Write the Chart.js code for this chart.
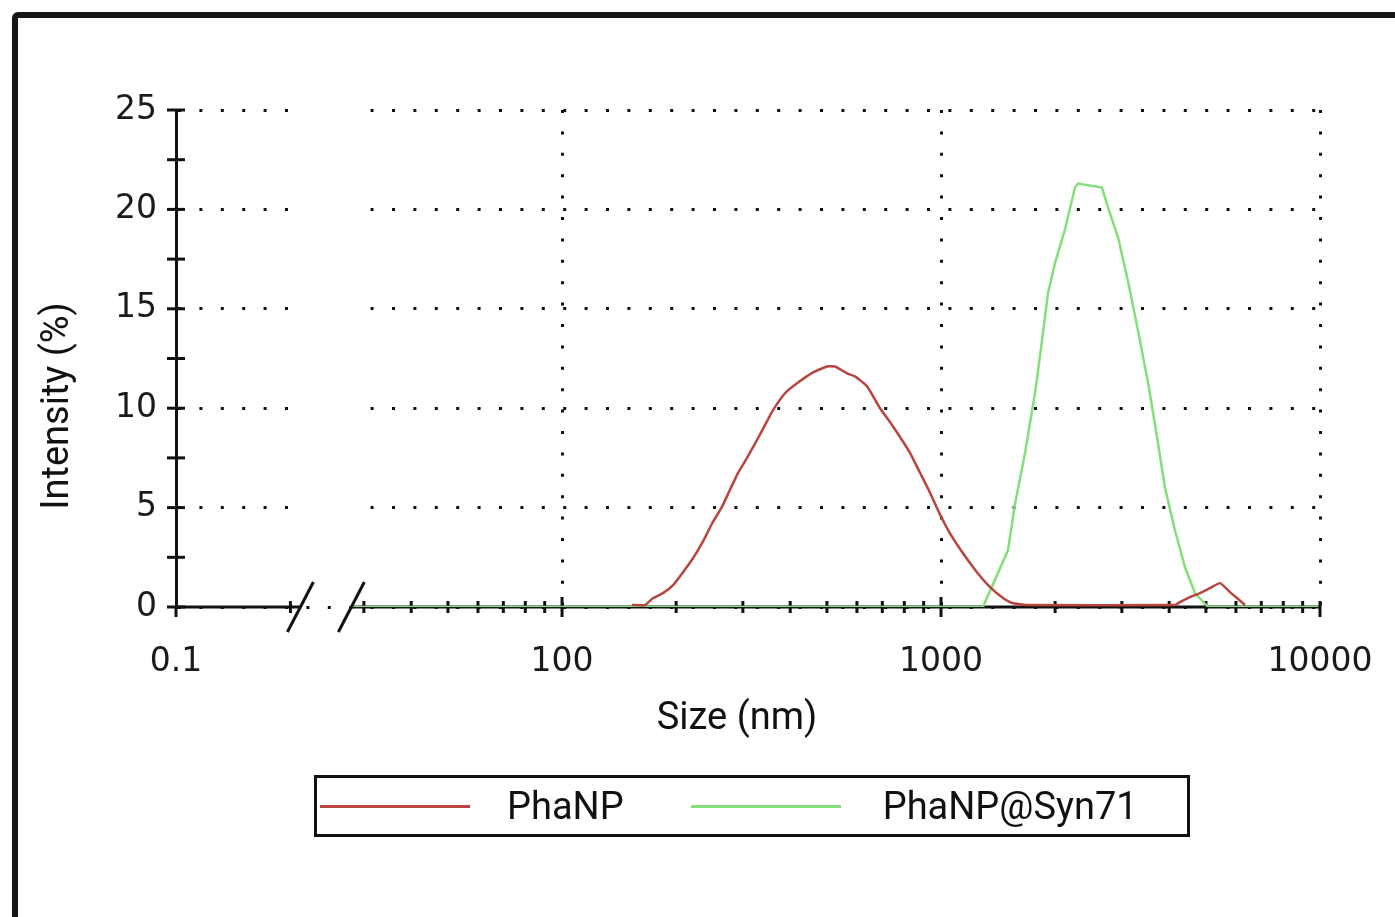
<!DOCTYPE html>
<html>
<head>
<meta charset="utf-8">
<title>DLS size distribution</title>
<script src="https://cdn.jsdelivr.net/npm/chart.js@4.4.0/dist/chart.umd.min.js"></script>
<style>
  html, body { margin: 0; padding: 0; background: #fff; overflow: hidden; }
  body { width: 1395px; height: 917px; position: relative; }
  #frame {
    position: absolute; left: 12px; top: 12px; width: 1420px; height: 940px;
    border: 6px solid #161616; border-radius: 6px; box-sizing: border-box;
  }
  #wrap { position: absolute; left: 0; top: 0; width: 1395px; height: 917px; }
  #legend {
    position: absolute; left: 314px; top: 775px; width: 876px; height: 62px;
    box-sizing: border-box; border: 3px solid #111;
    display: flex; align-items: center; padding-left: 3px;
    font-family: Roboto, "Noto Sans", sans-serif; font-size: 38px; color: #111;
  }
  .item { display: flex; align-items: center; }
  .swatch { width: 150px; height: 3px; margin-right: 37px; }
  .item + .item { margin-left: 67px; }
  .item + .item .swatch { margin-right: 42px; }
</style>
</head>
<body>
<div id="frame"></div>
<div id="wrap"><canvas id="dls-chart" width="1395" height="917"></canvas></div>
<div id="legend"></div>

<script>
// the size axis is broken: the stub at the left stands for 0.1 nm,
// after the two slashes the log axis carries on from ~28 nm
const sizeAxisMin = 9.58
const sizeAxisMax = 10000
const breakFrom = 20.4
const breakTo = 27.8

const xLabelTicks = [sizeAxisMin, 100, 1000, 10000]
const xMajorTicks = [100, 1000]
const xMinorTicks = [19.2, 30, 40, 50, 60, 70, 80, 90,
  200, 300, 400, 500, 600, 700, 800, 900,
  2000, 3000, 4000, 5000, 6000, 7000, 8000, 9000]
const yMax = 25
const yLabelStep = 5
const yTickStep = 2.5

// PhaNP (nm / %)
const phanpSize = [153, 165.6, 173.9, 184.7, 196.3, 208.6, 221.6, 235.5, 248.8, 264.4,
  277.5, 291.4, 307.7, 327, 343.2, 360.3, 387.6, 416.9, 459.6, 500.4,
  525.3, 565, 593, 637.9, 690.2, 733.6, 779.5, 828.2, 880.2, 935.4,
  994, 1056, 1143, 1244, 1347, 1458, 1540, 1687,
  4144, 4272, 4539, 4824, 5126, 5446, 5788, 6039, 6341]
const phanpIntensity = [0.1, 0.1, 0.45, 0.7, 1.1, 1.75, 2.45, 3.3, 4.2, 5.05,
  5.9, 6.75, 7.5, 8.4, 9.15, 9.9, 10.75, 11.25, 11.8, 12.1,
  12.1, 11.75, 11.6, 11.1, 10.0, 9.3, 8.55, 7.75, 6.75, 5.75,
  4.65, 3.7, 2.7, 1.75, 1.0, 0.45, 0.2, 0.1,
  0.1, 0.25, 0.5, 0.7, 0.95, 1.2, 0.75, 0.45, 0.1]

// PhaNP@Syn71 (nm / %)
const synSize = [28, 1290, 1502, 1568, 1666, 1770, 1847, 1916, 1999, 2124,
  2257, 2299, 2659, 2758, 2931, 3114, 3310, 3517, 3715, 3899,
  4144, 4404, 4680, 5064, 10000]
const synIntensity = [0, 0, 2.85, 5.2, 7.75, 10.75, 13.4, 15.8, 17.3, 19.0,
  21.1, 21.3, 21.1, 20.1, 18.6, 16.4, 13.9, 11.3, 8.55, 6.0,
  3.85, 2.0, 0.7, 0, 0]

const axisColor = "#111"
const tickFont = { family: "DejaVu Sans", size: 33 }

const toPoints = (xs, ys) => xs.map((x, i) => ({ x, y: ys[i] }))

const line = (ctx, x1, y1, x2, y2) => {
  ctx.beginPath()
  ctx.moveTo(x1, y1)
  ctx.lineTo(x2, y2)
  ctx.stroke()
}

const brokenAxis = {
  id: "brokenAxis",
  beforeDatasetsDraw(chart) {
    const { ctx, chartArea: area, scales: { x, y } } = chart
    const y0 = y.getPixelForValue(0)
    const gapL = x.getPixelForValue(breakFrom)
    const gapR = x.getPixelForValue(breakTo)
    ctx.save()
    // no grid inside the break
    ctx.fillStyle = "#fff"
    ctx.fillRect(gapL + 3, area.top - 3, gapR - gapL + 9, area.bottom - area.top + 2)

    ctx.strokeStyle = axisColor
    ctx.lineWidth = 3
    line(ctx, area.left, y0, gapL, y0)
    line(ctx, gapR, y0, area.right, y0)
    line(ctx, area.left, y0, area.left, y0 + 10)

    xMinorTicks.forEach(v => {
      const px = x.getPixelForValue(v)
      line(ctx, px, y0 - 6, px, y0 + 6)
    })
    xMajorTicks.forEach(v => {
      const px = x.getPixelForValue(v)
      line(ctx, px, y0 - 10, px, y0 + 10)
    })
    for (let v = 0; v <= yMax; v += yTickStep) {
      const py = y.getPixelForValue(v)
      line(ctx, area.left - 9, py, area.left + 9, py)
    }
    ctx.restore()
  },
  afterDatasetsDraw(chart) {
    const { ctx, scales: { x, y } } = chart
    const y0 = y.getPixelForValue(0)
    ctx.save()
    ctx.strokeStyle = axisColor
    ctx.lineWidth = 3
    const pEnd = x.getPixelForValue(sizeAxisMax)
    line(ctx, pEnd, y0 - 6, pEnd, y0 + 10)
    ;[breakFrom, breakTo].forEach(v => {
      const px = x.getPixelForValue(v)
      line(ctx, px - 13, y0 + 25, px + 13, y0 - 25)
    })

    // axis titles
    ctx.fillStyle = axisColor
    ctx.font = "38px Roboto"
    ctx.textAlign = "center"
    ctx.textBaseline = "middle"
    ctx.fillText("Size (nm)", 737, 719)
    ctx.translate(58, 406)
    ctx.rotate(-Math.PI / 2)
    ctx.fillText("Intensity (%)", 0, 0)
    ctx.restore()
  }
}

const chart = new Chart(document.getElementById("dls-chart"), {
  type: "line",
  data: {
    datasets: [
      {
        label: "PhaNP",
        data: toPoints(phanpSize, phanpIntensity),
        borderColor: "#b8453f",
        borderWidth: 2.5,
        pointRadius: 0,
        tension: 0.15,
      },
      {
        label: "PhaNP@Syn71",
        data: toPoints(synSize, synIntensity),
        borderColor: "#84de7a",
        borderWidth: 2.5,
        pointRadius: 0,
        tension: 0,
      }
    ]
  },
  options: {
    responsive: false,
    animation: false,
    events: [],
    layout: { padding: { top: 110, right: 75, left: 0, bottom: 0 } },
    plugins: {
      legend: { display: false },
      tooltip: { enabled: false }
    },
    scales: {
      x: {
        type: "logarithmic",
        min: sizeAxisMin,
        max: sizeAxisMax,
        afterBuildTicks: scale => {
          scale.ticks = xLabelTicks.map(v => ({ value: v }))
        },
        afterFit: scale => {
          scale.height = 310
          scale.paddingLeft = 0
          scale.paddingRight = 0
        },
        ticks: {
          autoSkip: false,
          maxRotation: 0,
          padding: 36,
          color: "#1a1a1a",
          font: tickFont,
          callback: v => v === sizeAxisMin ? "0.1" : String(v)
        },
        grid: { color: axisColor, lineWidth: 3, drawTicks: false },
        border: { display: false, dash: [3, 18.4] }
      },
      y: {
        min: 0,
        max: yMax,
        afterFit: scale => {
          scale.width = 176
          scale.paddingTop = 0
          scale.paddingBottom = 0
        },
        ticks: {
          stepSize: yLabelStep,
          padding: 19,
          color: "#1a1a1a",
          font: tickFont
        },
        grid: { color: axisColor, lineWidth: 3, drawTicks: false },
        border: { display: true, color: axisColor, width: 3, dash: [3, 18.4] }
      }
    }
  },
  plugins: [brokenAxis]
})

const legendEl = document.getElementById("legend")
chart.data.datasets.forEach(ds => {
  const item = document.createElement("div")
  item.className = "item"
  const swatch = document.createElement("span")
  swatch.className = "swatch"
  swatch.style.background = ds.borderColor
  const text = document.createElement("span")
  text.textContent = ds.label
  item.append(swatch, text)
  legendEl.appendChild(item)
})
</script>
</body>
</html>
